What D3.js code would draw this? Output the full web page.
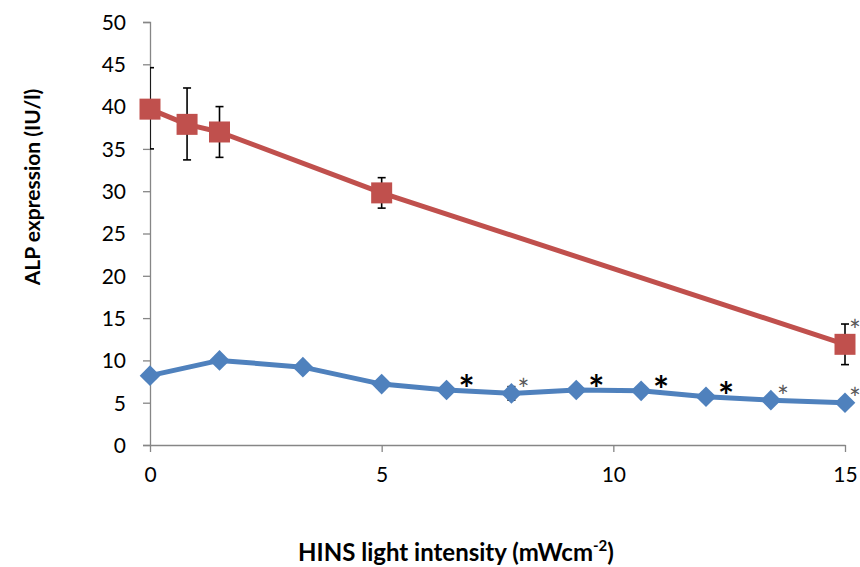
<!DOCTYPE html>
<html><head><meta charset="utf-8">
<script src="https://cdn.jsdelivr.net/npm/d3@7"></script>
<style>body{margin:0;background:#fff}svg{display:block}text{font-family:Lato,"Open Sans",sans-serif}</style>
</head><body><svg id="c" width="860" height="567"></svg>
<script>
// Data
const redX = [0, 0.8, 1.5, 5, 15];
const redY = [39.7, 37.9, 37.0, 29.8, 11.9];
const redErrLow = [35.0, 33.7, 34.0, 28.0, 9.5];
const redErrHigh = [44.6, 42.2, 40.0, 31.6, 14.3];
const redStars = ["", "", "", "", "gray"];

const blueX = [0, 1.5, 3.3, 5, 6.4, 7.8, 9.2, 10.6, 12, 13.4, 15];
const blueY = [8.2, 10.0, 9.2, 7.2, 6.5, 6.1, 6.5, 6.4, 5.7, 5.3, 5.0];
const blueErrLow = [null, null, null, null, null, 5.3, null, null, null, null, null];
const blueErrHigh = [null, null, null, null, null, 6.9, null, null, null, null, null];
const blueStars = ["", "", "", "", "black", "gray", "black", "black", "black", "gray", "gray"];

const xTicks = [0, 5, 10, 15];
const yTicks = [0, 5, 10, 15, 20, 25, 30, 35, 40, 45, 50];

const svg = d3.select("#c");
const x = d3.scaleLinear().domain([0, 15]).range([150, 845]);
const y = d3.scaleLinear().domain([0, 50]).range([445, 22]);
const axisCol = "#868686";

// Y axis
const ya = svg.append("g").attr("transform", "translate(150,0)")
  .call(d3.axisLeft(y).tickValues(yTicks).tickSize(7).tickPadding(17).tickFormat(d3.format("d")));
ya.select(".domain").attr("stroke", axisCol).attr("stroke-width", 1.3);
ya.selectAll(".tick line").attr("stroke", axisCol).attr("stroke-width", 1.3);
ya.selectAll(".tick text").attr("font-size", 21).attr("fill", "#000").attr("font-family", "Lato,sans-serif").attr("dy", "0.35em");

// X axis
const xa = svg.append("g").attr("transform", "translate(0,445)")
  .call(d3.axisBottom(x).tickValues(xTicks).tickSize(7).tickPadding(15).tickSizeOuter(0).tickFormat(d3.format("d")));
xa.select(".domain").attr("stroke", axisCol).attr("stroke-width", 1.3);
xa.selectAll(".tick line").attr("stroke", axisCol).attr("stroke-width", 1.3);
xa.selectAll(".tick text").attr("font-size", 21).attr("fill", "#000").attr("font-family", "Lato,sans-serif");

// Titles
svg.append("text").attr("transform", "translate(40,187) rotate(-90)")
  .attr("text-anchor", "middle").attr("font-size", 21).attr("font-weight", "bold")
  .text("ALP expression (IU/l)");
const xt = svg.append("text").attr("x", 456).attr("y", 561)
  .attr("text-anchor", "middle").attr("font-size", 24).attr("font-weight", "bold");
xt.append("tspan").text("HINS light intensity (mWcm");
xt.append("tspan").attr("font-size", 15).attr("dy", -10).text("-2");
xt.append("tspan").attr("dy", 10).text(")");

// clip for error bars
svg.append("clipPath").attr("id", "pc").append("rect").attr("x", 150).attr("y", 0).attr("width", 710).attr("height", 445);

const starStyle = {
  black: {dx: 20, dy: -8, size: 38, weight: "bold", fill: "#000"},
  gray: {dx: 12, dy: -9, size: 28, weight: "normal", fill: "#595959"}
};

function series(xs, ys, lo, hi, stars, color, shape, starLift) {
  const pts = xs.map((v, i) => ({x: v, y: ys[i], lo: lo[i], hi: hi[i], s: stars[i]}));
  svg.append("path").datum(pts)
    .attr("d", d3.line().x(d => x(d.x)).y(d => y(d.y)))
    .attr("fill", "none").attr("stroke", color).attr("stroke-width", 5).attr("stroke-linejoin", "round");
  const eb = svg.append("g").attr("clip-path", "url(#pc)");
  pts.filter(d => d.lo != null).forEach(d => {
    const cx = x(d.x);
    eb.append("line").attr("x1", cx).attr("x2", cx).attr("y1", y(d.lo)).attr("y2", y(d.hi)).attr("stroke", "#000").attr("stroke-width", 1.6);
    [d.lo, d.hi].forEach(v => eb.append("line").attr("x1", cx - 4).attr("x2", cx + 4).attr("y1", y(v)).attr("y2", y(v)).attr("stroke", "#000").attr("stroke-width", 1.6));
  });
  svg.append("g").selectAll("path").data(pts).join("path")
    .attr("transform", d => `translate(${x(d.x)},${y(d.y)})${shape === "diamond" ? " rotate(45)" : ""}`)
    .attr("d", shape === "diamond" ? "M-7.3,-7.3H7.3V7.3H-7.3Z" : "M-10.5,-10.5H10.5V10.5H-10.5Z")
    .attr("fill", color);
  svg.append("g").selectAll("text").data(pts.filter(d => d.s)).join("text")
    .each(function(d) {
      const st = starStyle[d.s];
      d3.select(this)
        .attr("x", Math.min(x(d.x) + st.dx, 855))
        .attr("y", y(d.y) + st.dy - starLift + st.size * 0.55)
        .attr("font-size", st.size).attr("font-weight", st.weight).attr("fill", st.fill);
    })
    .attr("text-anchor", "middle")
    .attr("font-family", "DejaVu Sans,sans-serif")
    .text("*");
}
series(redX, redY, redErrLow, redErrHigh, redStars, "#C0504D", "square", 10);
series(blueX, blueY, blueErrLow, blueErrHigh, blueStars, "#4F81BD", "diamond", 0);
</script></body></html>
